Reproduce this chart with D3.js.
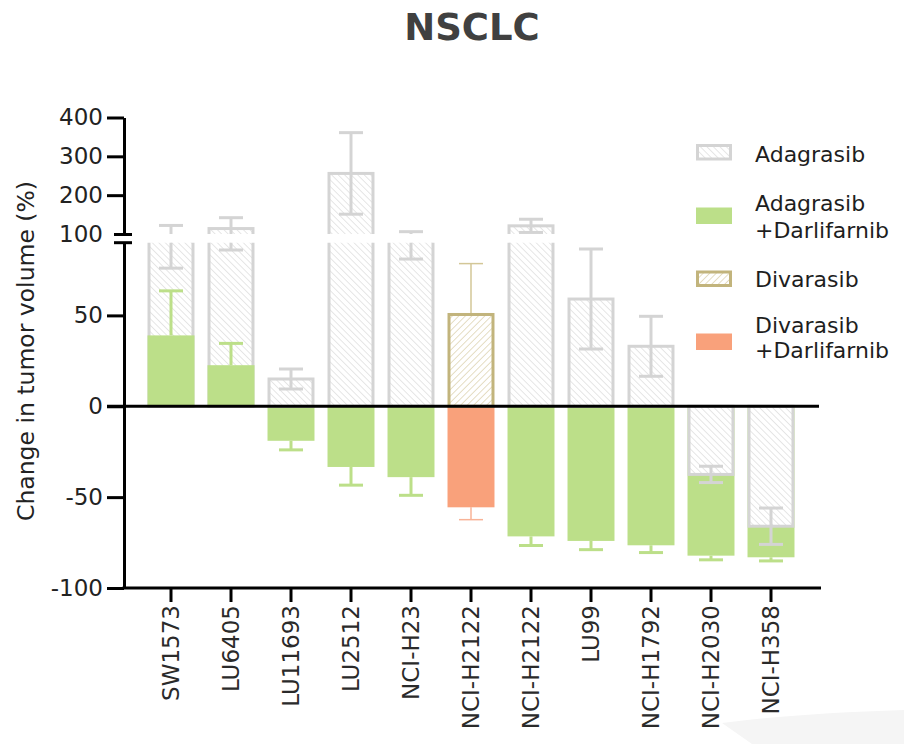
<!DOCTYPE html>
<html><head><meta charset="utf-8">
<script src="https://cdn.jsdelivr.net/npm/d3@7"></script>
<style>body{margin:0;background:#fff}svg{display:block}</style>
</head><body><div id="chart"></div>
<script>
// ---------- data ----------
const categories = ["SW1573","LU6405","LU11693","LU2512","NCI-H23","NCI-H2122","NCI-H2122","LU99","NCI-H1792","NCI-H2030","NCI-H358"];
const adagrasib      = [99, 114, 15, 256, 93.5, null, 121, 59, 33, -37.5, -66];
const adagrasibSD    = [23, 28, 5.5, 105, 12.5, null, 17, 27.5, 16.5, 4.5, 10];
const adaDarli       = [39, 22.6, -19, -33.4, -39, null, -71.6, -74.1, -76.5, -82.2, -83.1];
const adaDarliSD     = [24.5, 12, 5, 10, 10, null, 5, 4.8, 4, 2.3, 2];
const divarasib      = [null, null, null, null, null, 50.5, null, null, null, null, null];
const divarasibSD    = [null, null, null, null, null, 28, null, null, null, null, null];
const divDarli       = [null, null, null, null, null, -55.6, null, null, null, null, null];
const divDarliSD     = [null, null, null, null, null, 6.8, null, null, null, null, null];
const upperTicks = [100, 200, 300, 400];
const lowerTicks = [-100, -50, 0, 50];
const legendLabels = [["Adagrasib"], ["Adagrasib", "+Darlifarnib"], ["Divarasib"], ["Divarasib", "+Darlifarnib"]];
const legendKinds = ["ada", "adaD", "div", "divD"];

// ---------- setup ----------
const W = 904, H = 744;
const FONT = "DejaVu Sans, sans-serif";
const svg = d3.select("#chart").append("svg").attr("width", W).attr("height", H);

const defs = svg.append("defs");
function hatch(id, color, angle, bg) {
  const p = defs.append("pattern").attr("id", id).attr("patternUnits", "userSpaceOnUse")
    .attr("width", 4.6).attr("height", 4.6).attr("patternTransform", `rotate(${angle})`);
  p.append("rect").attr("width", 4.6).attr("height", 4.6).attr("fill", bg);
  p.append("line").attr("x1", 0).attr("y1", 0).attr("x2", 0).attr("y2", 4.6)
    .attr("stroke", color).attr("stroke-width", 1.1);
}
hatch("hatchGray", "#d3d3d3", -45, "#fff");
hatch("hatchTan", "#d0c494", 45, "#fff");

const style = {
  ada:  {fill: "url(#hatchGray)", stroke: "#d4d4d4", sw: 3, err: "#d4d4d4", esw: 3},
  adaD: {fill: "#bcdf89", stroke: null, sw: 0, err: "#bcdf89", esw: 3},
  div:  {fill: "url(#hatchTan)", stroke: "#c2b47c", sw: 3, err: "#d3c797", esw: 1.5},
  divD: {fill: "#f9a17b", stroke: null, sw: 0, err: "#f8b397", esw: 1.5}
};

// faint background artifact bottom-right
svg.append("path").attr("d", "M722,723 Q800,713 904,710 L904,744 L752,744 Z").attr("fill", "#f5f5f5");

// scales
const x = d3.scaleBand().domain(d3.range(categories.length)).range([141, 801])
  .paddingInner(0.217).paddingOuter(0.1085);
const yUpper = d3.scaleLinear().domain([100, 400]).range([234, 117.5]);
const yLower = d3.scaleLinear().domain([-100, 90]).range([588, 242.7]);
const bw = x.bandwidth();
const capW = 24;

// clip paths
defs.append("clipPath").attr("id", "clipUpper").append("rect").attr("x", 0).attr("y", 0).attr("width", W).attr("height", yUpper(100));
defs.append("clipPath").attr("id", "clipLower").append("rect").attr("x", 0).attr("y", yLower(90)).attr("width", W).attr("height", H - yLower(90));

const gUpper = svg.append("g").attr("clip-path", "url(#clipUpper)");
const gLower = svg.append("g").attr("clip-path", "url(#clipLower)");

function drawBar(g, y, i, it, isUpper) {
  if (isUpper && it.v <= 100) return;
  const s = style[it.kind];
  const inset = s.stroke ? s.sw / 2 : 0;
  const y0 = y(0), y1 = y(it.v);
  g.append("rect")
    .attr("x", x(i) + inset).attr("width", bw - 2 * inset)
    .attr("y", Math.min(y0, y1)).attr("height", Math.abs(y1 - y0))
    .attr("fill", s.fill)
    .attr("stroke", s.stroke || "none").attr("stroke-width", s.sw);
}
function drawErr(g, y, i, it, both) {
  const s = style[it.kind];
  const cx = x(i) + bw / 2;
  const sign = it.v >= 0 ? 1 : -1;
  const ends = both ? [it.v - it.sd, it.v + it.sd] : [it.v, it.v + sign * it.sd];
  const eg = g.append("g").attr("stroke", s.err).attr("stroke-width", s.esw);
  eg.append("line").attr("x1", cx).attr("x2", cx).attr("y1", y(ends[0])).attr("y2", y(ends[1]));
  const caps = both ? ends : [ends[1]];
  caps.forEach(v => eg.append("line").attr("x1", cx - capW / 2).attr("x2", cx + capW / 2).attr("y1", y(v)).attr("y2", y(v)));
}
function drawCategory(g, y, i, isUpper) {
  const items = [];
  if (adagrasib[i] != null) items.push({kind: "ada", v: adagrasib[i], sd: adagrasibSD[i]});
  if (adaDarli[i] != null) items.push({kind: "adaD", v: adaDarli[i], sd: adaDarliSD[i]});
  if (divarasib[i] != null) items.push({kind: "div", v: divarasib[i], sd: divarasibSD[i]});
  if (divDarli[i] != null) items.push({kind: "divD", v: divDarli[i], sd: divDarliSD[i]});
  items.sort((a, b) => Math.abs(b.v) - Math.abs(a.v));
  items.forEach(it => {
    if (it.kind !== "ada") drawErr(g, y, i, it, false);
    drawBar(g, y, i, it, isUpper);
  });
  items.filter(it => it.kind === "ada").forEach(it => drawErr(g, y, i, it, true));
}
categories.forEach((c, i) => { drawCategory(gUpper, yUpper, i, true); drawCategory(gLower, yLower, i, false); });

// ---------- axes ----------
const axisX = 124;
function styleAxis(g) {
  g.selectAll("path.domain").attr("stroke", "#000").attr("stroke-width", 3);
  g.selectAll(".tick line").attr("stroke", "#000").attr("stroke-width", 3);
  g.selectAll(".tick text").attr("font-family", FONT).attr("font-size", 23).attr("fill", "#222");
}
const gu = svg.append("g").attr("transform", `translate(${axisX},0)`)
  .call(d3.axisLeft(yUpper).tickValues(upperTicks).tickSize(17).tickSizeOuter(0).tickPadding(4).tickFormat(d3.format("d")));
styleAxis(gu);
gu.selectAll(".tick").filter(d => d === 100).select("line").attr("x1", -10).attr("x2", 8);
const gl = svg.append("g").attr("transform", `translate(${axisX},0)`)
  .call(d3.axisLeft(yLower).tickValues(lowerTicks).tickSize(17).tickSizeOuter(0).tickPadding(4).tickFormat(d3.format("d")));
styleAxis(gl);
gl.selectAll(".tick text").text(d => d < 0 ? "-" + Math.abs(d) : d);
// break mark for lower segment top
svg.append("line").attr("x1", axisX - 10).attr("x2", axisX + 8).attr("y1", yLower(90)).attr("y2", yLower(90))
  .attr("stroke", "#000").attr("stroke-width", 3);

// zero line
svg.append("line").attr("x1", 107).attr("x2", 819).attr("y1", yLower(0)).attr("y2", yLower(0))
  .attr("stroke", "#000").attr("stroke-width", 3);

// x axis
const gx = svg.append("g").attr("transform", `translate(0,${yLower(-100)})`)
  .call(d3.axisBottom(x).tickSize(14).tickFormat(i => categories[i]));
gx.select("path.domain").remove();
gx.selectAll(".tick line").attr("stroke", "#000").attr("stroke-width", 3);
gx.selectAll(".tick text").attr("font-family", FONT).attr("font-size", 23).attr("fill", "#2a2a2a")
  .attr("transform", "rotate(-90)").attr("text-anchor", "end")
  .attr("x", -17).attr("y", 0).attr("dy", "0.36em");
svg.append("line").attr("x1", axisX - 1.5).attr("x2", 821).attr("y1", yLower(-100)).attr("y2", yLower(-100))
  .attr("stroke", "#000").attr("stroke-width", 3);

// y label
svg.append("text").attr("transform", "translate(34,351) rotate(-90)").attr("text-anchor", "middle")
  .attr("font-family", FONT).attr("font-size", 23.5).attr("fill", "#222").text("Change in tumor volume (%)");

// title
svg.append("text").attr("x", 472).attr("y", 39.5).attr("text-anchor", "middle")
  .attr("font-family", FONT).attr("font-weight", "bold").attr("font-size", 37).attr("fill", "#404040").text("NSCLC");

// ---------- legend ----------
const legY = [144, 207.5, 270.5, 333.5];
const legBase = [[161.7], [210.7, 238.3], [287.3], [333.3, 358.3]];
legendKinds.forEach((k, j) => {
  const s = style[k];
  const inset = s.stroke ? s.sw / 2 : 0;
  svg.append("rect").attr("x", 696 + inset).attr("y", legY[j] + inset)
    .attr("width", 36 - 2 * inset).attr("height", 16.5 - 2 * inset)
    .attr("fill", s.fill).attr("stroke", s.stroke || "none").attr("stroke-width", s.sw);
  legendLabels[j].forEach((t, li) => {
    svg.append("text").attr("x", 755).attr("y", legBase[j][li])
      .attr("font-family", FONT).attr("font-size", 22).attr("fill", "#1e1e1e").text(t);
  });
});
</script>
</body></html>
